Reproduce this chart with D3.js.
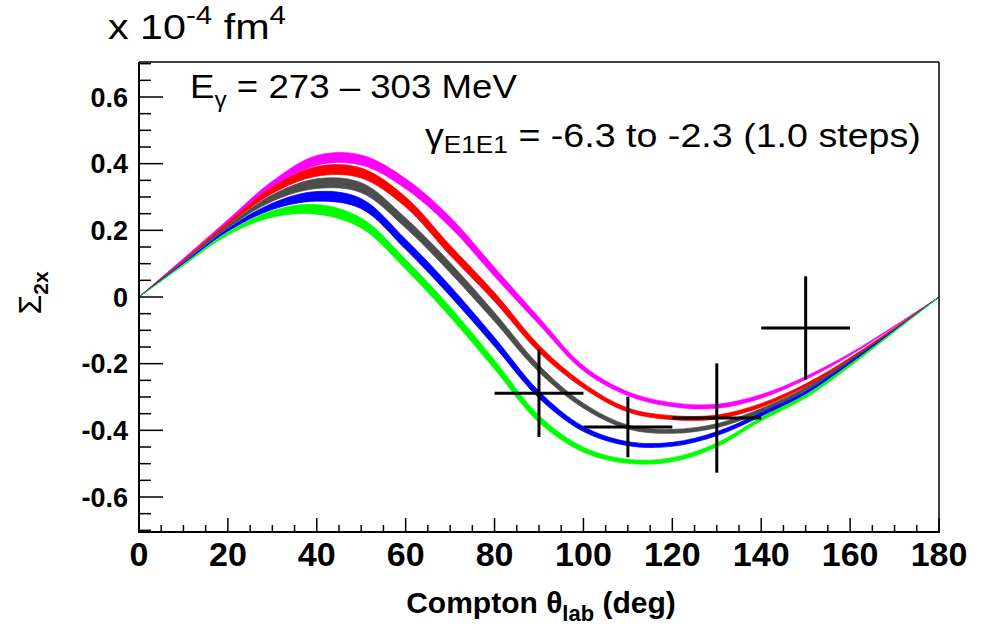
<!DOCTYPE html>
<html>
<head>
<meta charset="utf-8">
<script src="https://cdn.jsdelivr.net/npm/d3@7/dist/d3.min.js"></script>
<style>
  html, body { margin: 0; padding: 0; background: #ffffff; }
  svg { display: block; }
  text { font-family: "Liberation Sans", Arial, Helvetica, sans-serif; fill: #000; }
</style>
</head>
<body>
<div id="chart"></div>
<script>
// ---------------- data ----------------
const angles = [0, 10, 20, 30, 40, 50, 60, 70, 80, 90, 100, 110, 120, 130, 140, 150, 160, 170, 180];

// band centre values, one band per gamma_E1E1 value
const bandMagenta = [0, 0.114, 0.228, 0.338, 0.410, 0.411, 0.340, 0.225, 0.075, -0.072, -0.214, -0.290, -0.323, -0.328, -0.298, -0.243, -0.172, -0.088, 0];
const bandRed     = [0, 0.110, 0.220, 0.320, 0.377, 0.372, 0.285, 0.140, 0.000, -0.155, -0.266, -0.339, -0.362, -0.360, -0.325, -0.265, -0.185, -0.094, 0];
const bandGray    = [0, 0.106, 0.211, 0.297, 0.340, 0.328, 0.222, 0.088, -0.060, -0.215, -0.326, -0.390, -0.403, -0.386, -0.340, -0.276, -0.191, -0.097, 0];
const bandBlue    = [0, 0.101, 0.201, 0.272, 0.302, 0.280, 0.158, 0.018, -0.135, -0.293, -0.396, -0.440, -0.442, -0.410, -0.352, -0.287, -0.197, -0.100, 0];
const bandGreen   = [0, 0.096, 0.190, 0.249, 0.263, 0.222, 0.098, -0.045, -0.203, -0.366, -0.458, -0.493, -0.488, -0.444, -0.366, -0.298, -0.205, -0.103, 0];
// full vertical thickness of each band at each angle
const bandWidth   = [0, 0.003, 0.008, 0.019, 0.029, 0.030, 0.030, 0.030, 0.027, 0.021, 0.015, 0.012, 0.012, 0.012, 0.011, 0.009, 0.006, 0.003, 0];

const bandNames  = ["magenta", "red", "gray", "blue", "green"];
const bandColors = ["#ff00ff", "#ff0000", "#4d4d4d", "#0000ff", "#00ff00"];
const bandValues = [bandMagenta, bandRed, bandGray, bandBlue, bandGreen];

// measured points
const pointTheta    = [90, 110, 130, 150];
const pointValue    = [-0.289, -0.390, -0.363, -0.093];
const pointError    = [0.131, 0.091, 0.164, 0.155];
const pointThetaErr = [10, 10, 10, 10];

// ticks
const xMajorTicks = [0, 20, 40, 60, 80, 100, 120, 140, 160, 180];
const xTickLabels = ["0", "20", "40", "60", "80", "100", "120", "140", "160", "180"];
const yMajorTicks = [-0.6, -0.4, -0.2, 0, 0.2, 0.4, 0.6];
const yTickLabels = ["-0.6", "-0.4", "-0.2", "0", "0.2", "0.4", "0.6"];

// ---------------- layout ----------------
const W = 996, H = 630;
const L = 139, R = 939, T = 62, B = 532;

const svg = d3.select("#chart").append("svg")
  .attr("width", W).attr("height", H);

const x = d3.scaleLinear().domain([0, 180]).range([L, R]);
const y = d3.scaleLinear().domain([-0.705, 0.705]).range([B, T]);

// ---------------- bands ----------------
const area = d3.area()
  .x(d => x(d.t))
  .y0(d => y(d.c - d.w / 2))
  .y1(d => y(d.c + d.w / 2))
  .curve(d3.curveCatmullRom.alpha(0.5));

const gBands = svg.append("g");
bandValues.forEach((vals, i) => {
  const pts = angles.map((t, k) => ({ t: t, c: vals[k], w: bandWidth[k] }));
  gBands.append("path")
    .datum(pts)
    .attr("d", area)
    .attr("fill", bandColors[i])
    .attr("stroke", bandColors[i])
    .attr("stroke-width", 0.7)
    .attr("stroke-linejoin", "round");
});

// ---------------- error bars ----------------
const gPts = svg.append("g").attr("stroke", "#000").attr("stroke-width", 3);
pointTheta.forEach((t, i) => {
  gPts.append("line")
    .attr("x1", x(t - pointThetaErr[i])).attr("x2", x(t + pointThetaErr[i]))
    .attr("y1", y(pointValue[i])).attr("y2", y(pointValue[i]));
  gPts.append("line")
    .attr("x1", x(t)).attr("x2", x(t))
    .attr("y1", y(pointValue[i] + pointError[i])).attr("y2", y(pointValue[i] - pointError[i]));
});

// ---------------- frame & axes ----------------
const gAx = svg.append("g").attr("stroke", "#000").attr("fill", "none");
gAx.append("line").attr("x1", L).attr("x2", R).attr("y1", T).attr("y2", T).attr("stroke-width", 1.5);
gAx.append("line").attr("x1", R).attr("x2", R).attr("y1", T).attr("y2", B).attr("stroke-width", 1.5);
gAx.append("line").attr("x1", L).attr("x2", L).attr("y1", T).attr("y2", B + 1).attr("stroke-width", 2);
gAx.append("line").attr("x1", L - 1).attr("x2", R + 1).attr("y1", B).attr("y2", B).attr("stroke-width", 2);

// x ticks
const xMinor = d3.range(0, 181, 5);
xMinor.forEach(v => {
  const major = v % 20 === 0;
  gAx.append("line")
    .attr("x1", x(v)).attr("x2", x(v))
    .attr("y1", B).attr("y2", B - (major ? 14 : 7))
    .attr("stroke-width", 1.5);
});
// y ticks
const yMinor = d3.range(-0.7, 0.7001, 0.05).map(v => Math.round(v * 100) / 100);
yMinor.forEach(v => {
  if (v < -0.705 || v > 0.705) return;
  const major = Math.abs(Math.round(v * 100) % 20) === 0;
  gAx.append("line")
    .attr("x1", L).attr("x2", L + (major ? 24 : 12))
    .attr("y1", y(v)).attr("y2", y(v))
    .attr("stroke-width", 1.5);
});

// tick labels
xMajorTicks.forEach((v, i) => {
  svg.append("text")
    .attr("x", x(v)).attr("y", B + 34)
    .attr("text-anchor", "middle")
    .attr("font-size", 34).attr("font-weight", "bold")
    .text(xTickLabels[i]);
});
yMajorTicks.forEach((v, i) => {
  svg.append("text")
    .attr("x", 128).attr("y", y(v) + 9.5)
    .attr("text-anchor", "end")
    .attr("font-size", 27).attr("font-weight", "bold")
    .text(yTickLabels[i]);
});

// ---------------- titles ----------------
// x axis title
const xt = svg.append("text")
  .attr("x", 541).attr("y", 613)
  .attr("text-anchor", "middle")
  .attr("font-size", 30).attr("font-weight", "bold");
xt.append("tspan").text("Compton \u03B8");
xt.append("tspan").attr("font-size", 22).attr("dy", 8).text("lab");
xt.append("tspan").attr("dy", -8).text(" (deg)");

// y axis title
const yt = svg.append("text")
  .attr("transform", "translate(41,293) rotate(-90)")
  .attr("text-anchor", "middle")
  .attr("font-size", 32);
yt.append("tspan").text("\u03A3");
yt.append("tspan").attr("font-size", 21).attr("font-weight", "bold").attr("dy", 7).text("2x");

// scale factor
const sf = svg.append("g").attr("transform", "translate(108,39) scale(1.18,1)")
  .append("text").attr("x", 0).attr("y", 0).attr("font-size", 35);
sf.append("tspan").text("x 10");
sf.append("tspan").attr("font-size", 25).attr("dy", -15).text("-4");
sf.append("tspan").attr("dy", 15).text(" fm");
sf.append("tspan").attr("font-size", 25).attr("dy", -15).text("4");

// energy label
const el = svg.append("g").attr("transform", "translate(190,98) scale(1.11,1)")
  .append("text").attr("x", 0).attr("y", 0).attr("font-size", 33);
el.append("tspan").text("E");
el.append("tspan").attr("font-size", 22).attr("dy", 9).text("\u03B3");
el.append("tspan").attr("dy", -9).text(" = 273 \u2013 303 MeV");

// gamma label
const gl = svg.append("g").attr("transform", "translate(425,147) scale(1.14,1)")
  .append("text").attr("x", 0).attr("y", 0).attr("font-size", 33);
gl.append("tspan").text("\u03B3");
gl.append("tspan").attr("font-size", 23).attr("dy", 6).text("E1E1");
gl.append("tspan").attr("dy", -6).text(" = -6.3 to -2.3 (1.0 steps)");
</script>
</body>
</html>
